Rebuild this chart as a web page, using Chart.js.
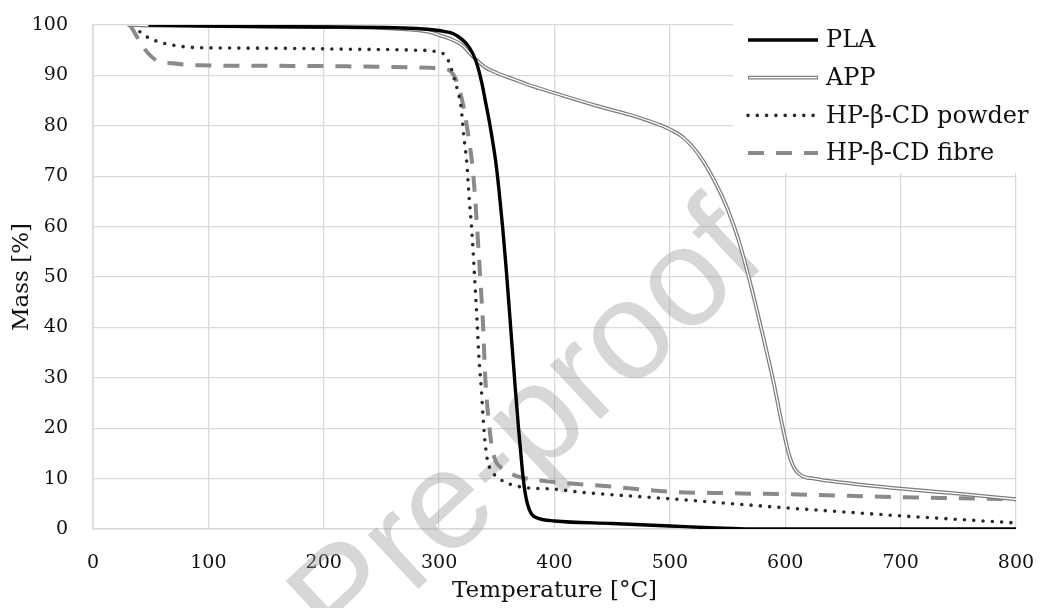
<!DOCTYPE html>
<html>
<head>
<meta charset="utf-8">
<title>TGA curves</title>
<script src="https://cdn.jsdelivr.net/npm/chart.js@4.4.1/dist/chart.umd.min.js"></script>
<style>
  html, body { margin: 0; padding: 0; background: #fff; }
  #wrap { width: 1042px; height: 608px; position: relative; }
</style>
</head>
<body>
<div id="wrap"><canvas id="tgaChart"></canvas></div>
<script>
// Values (temperature in °C, mass in %)
const plaTemp = [48, 100, 200, 250, 280, 292, 305, 312, 320, 326, 332, 337, 340, 343, 346, 349, 352, 355, 358, 362, 366, 369, 372, 374, 376.5, 380, 386, 400, 450, 500, 540, 570, 800];
const plaMass = [100, 99.8, 99.6, 99.5, 99.3, 99.1, 98.7, 98.3, 97.1, 95.6, 92.8, 88.5, 85, 81.5, 77.5, 73, 67, 60, 52, 40, 28, 19.5, 12, 8, 5, 3, 2.1, 1.6, 1.1, 0.6, 0.2, 0, 0];

const appTemp = [30, 50, 100, 200, 250, 280, 292, 300, 310, 320, 329, 340, 350, 365, 379, 400, 436, 465, 480, 491, 500, 511, 526, 540, 550, 560, 570, 580, 590, 597, 603, 608, 614, 625, 650, 700, 750, 800];
const appMass = [100, 99.9, 99.8, 99.6, 99.4, 99.0, 98.6, 98.0, 97.2, 96, 93.8, 91.6, 90.5, 89.2, 88, 86.5, 84, 82.2, 81.1, 80.2, 79.3, 77.8, 74, 68.5, 63.5, 57, 48.5, 39, 29, 21, 15, 12, 10.6, 10, 9.2, 8.0, 7.0, 5.9];

const powderTemp = [35, 39, 43, 47, 55, 69, 92, 150, 220, 280, 298, 305, 309, 313.5, 316, 319, 321.5, 324, 326, 328.4, 330, 331.5, 333, 334.5, 336.5, 338, 339.7, 342, 345, 352, 372, 400, 422, 450, 500, 550, 600, 650, 700, 750, 800];
const powderMass = [100, 99, 98.2, 97.6, 96.8, 96, 95.5, 95.4, 95.2, 95.0, 94.7, 94, 92.4, 89, 87, 83.7, 77.7, 72.6, 65.8, 59, 53, 47, 40.8, 34, 28, 22.5, 17.5, 13.5, 11.7, 10, 8.3, 7.9, 7.3, 6.8, 6.0, 5.1, 4.2, 3.4, 2.6, 1.9, 1.2];

const fibreTemp = [32, 36, 41, 47, 55, 69, 93, 150, 220, 292, 305, 310, 314, 320, 325, 329.5, 332.7, 335.4, 338, 340, 342.3, 345.7, 349, 353, 362, 370, 400, 422, 450, 500, 550, 600, 650, 700, 750, 800];
const fibreMass = [100, 98.5, 96.5, 94.6, 93, 92.4, 92, 91.9, 91.8, 91.5, 91.3, 90.8, 89.5, 85, 78.5, 70.6, 60.6, 50.7, 40.8, 30, 23, 16.3, 13.5, 12.3, 11, 10.3, 9.3, 8.9, 8.4, 7.4, 7.1, 6.9, 6.6, 6.3, 6.1, 5.9];

const seriesLabels = ["PLA", "APP", "HP-β-CD powder", "HP-β-CD fibre"];

function toPoints(xs, ys) {
  return xs.map((x, i) => ({ x: x, y: ys[i] }));
}

const serif = "'DejaVu Serif', 'Liberation Serif', serif";
const gridColor = "#d9d9d9";

// Light "Pre-proof" stamp behind the curves
const watermark = {
  id: "watermark",
  beforeDatasetsDraw(chart) {
    const ctx = chart.ctx;
    ctx.save();
    ctx.translate(530, 432);
    ctx.rotate(-43 * Math.PI / 180);
    ctx.font = "140px 'Liberation Sans', Arial, sans-serif";
    ctx.fillStyle = "rgba(150,150,150,0.38)";
    ctx.textAlign = "center";
    ctx.textBaseline = "middle";
    ctx.fillText("Pre-proof", 0, 0);
    ctx.restore();
  }
};

// Legend drawn inside the plot, top right, on a white box
const lineLegend = {
  id: "lineLegend",
  afterDatasetsDraw(chart) {
    const ctx = chart.ctx;
    const area = chart.chartArea;
    const x0 = area.right - 268;
    const rowH = 37.7;
    ctx.save();
    ctx.fillStyle = "#fff";
    ctx.fillRect(area.right - 283, 0, chart.width - (area.right - 283), area.top + 148);
    const items = chart.data.datasets.filter(ds => !ds.inner);
    items.forEach((ds, i) => {
      const y = area.top + 15 + i * rowH;
      ctx.beginPath();
      ctx.lineWidth = ds.borderWidth;
      ctx.strokeStyle = ds.borderColor;
      ctx.lineCap = ds.borderCapStyle || "butt";
      ctx.setLineDash(ds.borderDash || []);
      ctx.moveTo(x0, y);
      ctx.lineTo(x0 + 70, y);
      ctx.stroke();
      if (ds.double) {
        ctx.beginPath();
        ctx.lineWidth = 1.3;
        ctx.strokeStyle = "#fff";
        ctx.setLineDash([]);
        ctx.moveTo(x0 + 1, y);
        ctx.lineTo(x0 + 69, y);
        ctx.stroke();
      }
      ctx.setLineDash([]);
      ctx.fillStyle = "#111";
      ctx.font = "24px " + serif;
      ctx.textAlign = "left";
      ctx.textBaseline = "middle";
      ctx.fillText(ds.label, x0 + 78, y + 1);
    });
    ctx.restore();
  }
};

const ctx = document.getElementById("tgaChart");
const tgaChart = new Chart(ctx.getContext("2d"), {
  type: "line",
  data: {
    datasets: [
      {
        label: seriesLabels[0],
        data: toPoints(plaTemp, plaMass),
        borderColor: "#000",
        borderWidth: 3.4,
        order: 0,
      },
      {
        label: "",
        inner: true,
        data: toPoints(appTemp, appMass),
        borderColor: "#fff",
        borderWidth: 1.3,
        order: 1,
      },
      {
        label: seriesLabels[1],
        double: true,
        data: toPoints(appTemp, appMass),
        borderColor: "#7d7d7d",
        borderWidth: 3.8,
        order: 2,
      },
      {
        label: seriesLabels[2],
        data: toPoints(powderTemp, powderMass),
        borderColor: "#2b2b2b",
        borderWidth: 3.6,
        borderCapStyle: "round",
        borderDash: [0, 9.3],
        order: 3,
      },
      {
        label: seriesLabels[3],
        data: toPoints(fibreTemp, fibreMass),
        borderColor: "#8a8a8a",
        borderWidth: 4,
        borderDash: [16, 12],
        order: 4,
      },
    ],
  },
  options: {
    responsive: true,
    maintainAspectRatio: false,
    animation: false,
    layout: { padding: { top: 25, right: 26, left: 0, bottom: 0 } },
    elements: {
      point: { radius: 0, hoverRadius: 0 },
      line: { cubicInterpolationMode: "monotone", fill: false },
    },
    plugins: {
      legend: { display: false },
      tooltip: { enabled: false },
    },
    scales: {
      x: {
        type: "linear",
        min: 0,
        max: 800,
        ticks: {
          stepSize: 100,
          padding: 23,
          color: "#111",
          font: { family: serif, size: 19 },
        },
        grid: { color: gridColor, lineWidth: 1.3, drawTicks: false },
        border: { color: gridColor, width: 1.6 },
        title: {
          display: true,
          text: "Temperature [°C]",
          color: "#111",
          font: { family: serif, size: 23 },
          padding: { top: 0, bottom: 3 },
        },
        afterFit: function (scale) {
          scale.height = 79;
          scale.paddingLeft = 0;
          scale.paddingRight = 0;
        },
      },
      y: {
        min: 0,
        max: 100,
        ticks: {
          stepSize: 10,
          padding: 25,
          color: "#111",
          font: { family: serif, size: 19 },
        },
        grid: { color: gridColor, lineWidth: 1.3, drawTicks: false },
        border: { color: gridColor, width: 1.6 },
        title: {
          display: true,
          text: "Mass [%]",
          color: "#111",
          font: { family: serif, size: 23 },
          padding: { top: 8, bottom: 0 },
        },
        afterFit: function (scale) {
          scale.width = 93;
          scale.paddingTop = 0;
          scale.paddingBottom = 0;
        },
      },
    },
  },
  plugins: [watermark, lineLegend],
});
</script>
</body>
</html>
